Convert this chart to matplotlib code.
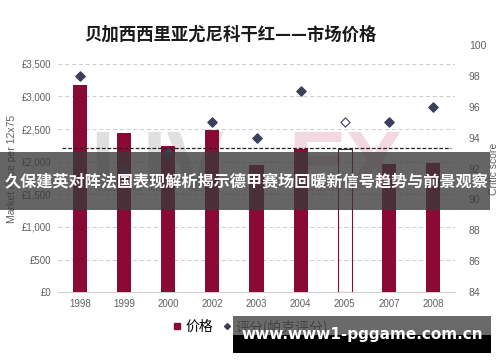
import matplotlib
matplotlib.use("Agg")
import matplotlib.pyplot as plt
from matplotlib.patches import Rectangle
from matplotlib.lines import Line2D
import numpy as np

plt.rcParams['font.family'] = ['Liberation Sans', 'Noto Sans CJK SC', 'DejaVu Sans']

# data
years = ['1998', '1999', '2000', '2002', '2003', '2004', '2005', '2007', '2008']
price = [3180, 2440, 2240, 2480, 1950, 2200, 2200, 1970, 1980]
score = [98, 92, 93, 95, 94, 97, 95, 95, 96]
hollow = [False, False, False, False, False, False, True, False, False]
avg_price = 2210
left_ticks = [0, 500, 1000, 1500, 2000, 2500, 3000, 3500]
right_ticks = [84, 86, 88, 90, 92, 94, 96, 98, 100]

bar_col = '#8b0a35'
dia_col = '#3d3d5c'
grey = '#606060'

fig = plt.figure(figsize=(5, 3.62), dpi=100)
ax = fig.add_axes([0.116, 0.193, 0.794, 0.683])
ax2 = ax.twinx()

x = np.arange(len(years))

# faint watermark behind everything
ax.text(0.08, 0.5, 'LIV', transform=ax.transAxes, fontsize=62, fontweight='bold',
        color='#e0e0e0', ha='left', va='center', zorder=0)
ax.text(0.58, 0.5, 'EX', transform=ax.transAxes, fontsize=62, fontweight='bold',
        color='#f2d8df', ha='left', va='center', zorder=0)

for i in range(len(years)):
    if hollow[i]:
        ax.bar(x[i], price[i], width=0.32, facecolor='none', edgecolor=bar_col,
               linewidth=0.8, zorder=3)
    else:
        ax.bar(x[i], price[i], width=0.32, color=bar_col, zorder=3)

ax.axhline(avg_price, xmin=0.01, xmax=0.99, color='#222222', linestyle=(0, (3, 1.5)),
           linewidth=0.9, zorder=4)

ax.set_xlim(-0.5, len(years) - 0.5)
ax.set_ylim(0, 3790)
ax.set_yticks(left_ticks)
ax.set_yticklabels(['£0' if v == 0 else '£{:,}'.format(v) for v in left_ticks])
ax.set_xticks(x)
ax.set_xticklabels(years)
ax.yaxis.grid(True, color='#cccccc', linestyle=(0, (4, 3)), linewidth=0.7)
ax.set_axisbelow(True)
ax.set_ylabel('Market Price per 12x75', color=grey, fontsize=7.5, labelpad=3)

for s in ['top', 'right', 'left']:
    ax.spines[s].set_visible(False)
    ax2.spines[s].set_visible(False)
ax.spines['bottom'].set_color('#d0d0d0')
ax2.spines['bottom'].set_visible(False)

ax.tick_params(axis='both', length=0, labelsize=7, labelcolor=grey, pad=5)

for i in range(len(years)):
    if hollow[i]:
        ax2.scatter(x[i], score[i], marker='D', s=22, facecolor='white',
                    edgecolor=dia_col, linewidth=0.8, zorder=5)
    else:
        ax2.scatter(x[i], score[i], marker='D', s=22, color=dia_col, zorder=5)

ax2.set_ylim(84, 100)
ax2.set_yticks(right_ticks)
ax2.tick_params(axis='y', length=0, labelsize=7.5, labelcolor=grey, pad=10)
ax2.set_ylabel('Critic score', color=grey, fontsize=7.5, labelpad=2)

fig.text(0.46, 0.903, '贝加西西里亚尤尼科干红——市场价格', ha='center', va='center',
         fontsize=12.5, fontweight='bold', color='#1a1a1a',
         family=['Noto Sans CJK SC', 'DejaVu Sans'])

handles = [Line2D([], [], marker='s', color=bar_col, linestyle='none', markersize=4),
           Line2D([], [], marker='D', color=dia_col, linestyle='none', markersize=3)]
fig.legend(handles, ['价格', '评分(帕克评分)'], loc='center', bbox_to_anchor=(0.5, 0.097),
           ncol=2, frameon=False, handletextpad=0.2, columnspacing=0.6,
           handlelength=0.8, prop={'family': ['Noto Sans CJK SC', 'DejaVu Sans'], 'size': 10})

# overlay banner across the middle
fig.patches.append(Rectangle((0, 0.42), 0.98, 0.16, transform=fig.transFigure,
                             facecolor='#3a3a3a', alpha=0.78, zorder=10))
fig.text(0.493, 0.5, '久保建英对阵法国表现解析揭示德甲赛场回暖新信号趋势与前景观察',
         ha='center', va='center', fontsize=11.6, fontweight='bold', color='white',
         family=['Noto Sans CJK SC', 'DejaVu Sans'], zorder=11)

# website box at the bottom
fig.patches.append(Rectangle((0.466, 0.075), 0.516, 0.052, transform=fig.transFigure,
                             facecolor='#505050', alpha=0.85, zorder=10))
fig.patches.append(Rectangle((0.466, 0.025), 0.516, 0.050, transform=fig.transFigure,
                             facecolor='black', zorder=10))
fig.text(0.724, 0.075, 'www.www1-pggame.com.cn', ha='center', va='center',
         fontsize=11, fontweight='bold', color='white', family='DejaVu Sans', zorder=11)

fig.savefig('out.png', dpi=100)
